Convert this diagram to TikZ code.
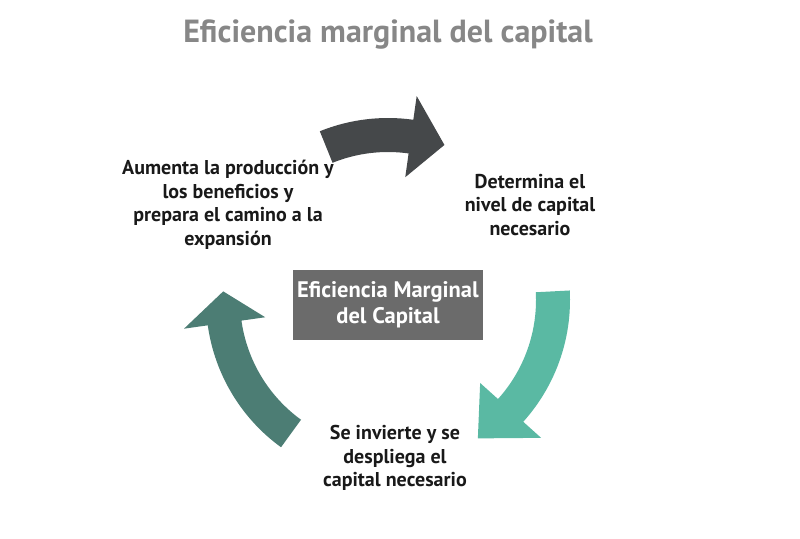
\documentclass[tikz,border=0pt]{standalone}
\usepackage{fontspec}
\setmainfont{PT Sans}
\definecolor{arrowgray}{HTML}{45484A}
\definecolor{arrowteal}{HTML}{5AB9A3}
\definecolor{arrowpine}{HTML}{4C7D74}
\begin{document}
\begin{tikzpicture}[x=1pt,y=-1pt,
  step node/.style={align=center,font=\bfseries\fontsize{20}{23.5}\selectfont,text=black!90},
  cycle arrow/.style={draw=none}]

  \useasboundingbox (0,0) rectangle (800,538);

  \node[font=\bfseries\fontsize{32}{34}\selectfont,text=black!47] (title) at (388,35) {Eficiencia marginal del capital};

  % curved arrows round the centre
  \begin{scope}[shift={(388,300)}]
    \def\ri{148} \def\ro{182} \def\rt{165} \def\hw{24}
    \foreach \aa/\hb/\tp/\col in {-112/-82/-70/arrowgray, -3/42/57/arrowteal, 126/172/183/arrowpine} {
      \fill[cycle arrow,\col] (\aa:\ri) -- (\aa:\ro) arc[start angle=\aa,end angle=\hb,radius=\ro]
        -- (\hb:\ro+\hw) -- (\tp:\rt) -- (\hb:\ri-\hw) -- (\hb:\ri)
        arc[start angle=\hb,end angle=\aa,radius=\ri] -- cycle;
    }
  \end{scope}

  \node[fill=black!58,minimum width=190,minimum height=70,text=white,align=center,
    font=\bfseries\fontsize{22.5}{26}\selectfont] (emc) at (388,305) {Eficiencia Marginal\\del Capital};

  \node[step node] (aumenta) at (228,205) {Aumenta la producción y\\los beneficios y\\prepara el camino a la\\expansión};
  \node[step node] (determina) at (530,205) {Determina el\\nivel de capital\\necesario};
  \node[step node] (invierte) at (395,458) {Se invierte y se\\despliega el\\capital necesario};
\end{tikzpicture}
\end{document}
